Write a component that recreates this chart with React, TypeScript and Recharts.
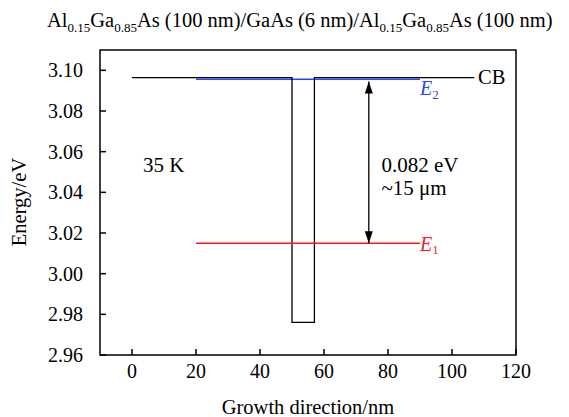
import React from "react";
import {
  LineChart,
  Line,
  XAxis,
  YAxis,
  ReferenceArea,
  Customized,
} from "recharts";

// band edge profile (conduction band with the GaAs well)
const cbX = [0, 50, 50, 57, 57, 107];
const cbE = [3.0964, 3.0964, 2.976, 2.976, 3.0964, 3.0964];

// confined levels
const levelX = [20, 90];
const e2Level = 3.0956;
const e1Level = 3.0149;

// transition arrow
const arrowX = [74, 74];
const arrowE = [3.0945, 3.0149];

const xTicks = [0, 20, 40, 60, 80, 100, 120];
const yTicks = [2.96, 2.98, 3.0, 3.02, 3.04, 3.06, 3.08, 3.1];

const cbData = cbX.map((x, i) => ({ x, e: cbE[i] }));
const e2Data = levelX.map((x) => ({ x, e: e2Level }));
const e1Data = levelX.map((x) => ({ x, e: e1Level }));
const arrowData = arrowX.map((x, i) => ({ x, e: arrowE[i] }));

const FONT = "Liberation Serif";
const BLUE = "#2448ff";
const RED = "#ff1a1a";

const ArrowHead = (props: any) => {
  const { cx, cy, index } = props;
  if (cx == null || cy == null) return null;
  const d = index === 0 ? 12 : -12;
  return (
    <polygon
      key={`ah-${index}`}
      points={`${cx},${cy} ${cx - 4},${cy + d} ${cx + 4},${cy + d}`}
      fill="#000"
    />
  );
};

const Texts = () => (
  <g style={{ fontFamily: FONT }} fill="#000">
    <text x={47} y={27} fontSize={20.5} fontFamily={FONT}>
      Al<tspan fontSize={13} dy={5}>0.15</tspan>
      <tspan dy={-5}>Ga</tspan>
      <tspan fontSize={13} dy={5}>0.85</tspan>
      <tspan dy={-5}>As (100 nm)/GaAs (6 nm)/Al</tspan>
      <tspan fontSize={13} dy={5}>0.15</tspan>
      <tspan dy={-5}>Ga</tspan>
      <tspan fontSize={13} dy={5}>0.85</tspan>
      <tspan dy={-5}>As (100 nm)</tspan>
    </text>
    <text x={308} y={414} fontSize={20.5} fontFamily={FONT} textAnchor="middle">
      Growth direction/nm
    </text>
    <text
      x={26}
      y={202}
      fontSize={20.5}
      fontFamily={FONT}
      textAnchor="middle"
      transform="rotate(-90 26 202)"
    >
      Energy/eV
    </text>
    <text x={143} y={171.5} fontSize={21} fontFamily={FONT}>35 K</text>
    <text x={381.5} y={171.5} fontSize={21} fontFamily={FONT}>0.082 eV</text>
    <text x={381.5} y={195} fontSize={21} fontFamily={FONT}>~15 μm</text>
    <text x={478} y={84} fontSize={20.5} fontFamily={FONT}>CB</text>
    <text x={420} y={95} fontSize={20} fontFamily={FONT} fill={BLUE} fontStyle="italic">
      E<tspan fontSize={13} dy={3.5} fontStyle="normal">2</tspan>
    </text>
    <text x={420} y={250.5} fontSize={20} fontFamily={FONT} fill={RED} fontStyle="italic">
      E<tspan fontSize={13} dy={3.5} fontStyle="normal">1</tspan>
    </text>
  </g>
);

export default function App() {
  const tickStyle = { fill: "#000", fontSize: 20, fontFamily: FONT };
  return (
    <div
      style={{
        position: "absolute",
        left: 0,
        top: 0,
        background: "#fff",
        fontFamily: FONT,
      }}
    >
      <LineChart
        width={569}
        height={417}
        margin={{ top: 50, right: 53, bottom: 32, left: 40 }}
        style={{ fontFamily: FONT }}
      >
        <XAxis
          type="number"
          dataKey="x"
          domain={[-10, 120]}
          ticks={xTicks}
          allowDataOverflow
          height={30}
          axisLine={false}
          tickSize={-6}
          tickMargin={15}
          tickLine={{ stroke: "#000", strokeWidth: 1.5 }}
          tick={tickStyle}
        />
        <YAxis
          type="number"
          dataKey="e"
          domain={[2.96, 3.11]}
          ticks={yTicks}
          allowDataOverflow
          width={60}
          axisLine={false}
          tickSize={-6}
          tickMargin={23}
          tickLine={{ stroke: "#000", strokeWidth: 1.5 }}
          tick={tickStyle}
          tickFormatter={(v: number) => v.toFixed(2)}
        />
        <ReferenceArea
          x1={-10}
          x2={120}
          y1={2.96}
          y2={3.11}
          fill="none"
          fillOpacity={0}
          stroke="#000"
          strokeWidth={1.5}
          strokeOpacity={1}
          ifOverflow="visible"
        />
        <Line
          data={e2Data}
          dataKey="e"
          type="linear"
          stroke={BLUE}
          strokeWidth={1.5}
          dot={false}
          isAnimationActive={false}
        />
        <Line
          data={cbData}
          dataKey="e"
          type="linear"
          stroke="#000"
          strokeWidth={1.3}
          dot={false}
          isAnimationActive={false}
        />
        <Line
          data={e1Data}
          dataKey="e"
          type="linear"
          stroke={RED}
          strokeWidth={1.5}
          dot={false}
          isAnimationActive={false}
        />
        <Line
          data={arrowData}
          dataKey="e"
          type="linear"
          stroke="#000"
          strokeWidth={1.3}
          dot={<ArrowHead />}
          isAnimationActive={false}
        />
        <Customized component={Texts} />
      </LineChart>
    </div>
  );
}
